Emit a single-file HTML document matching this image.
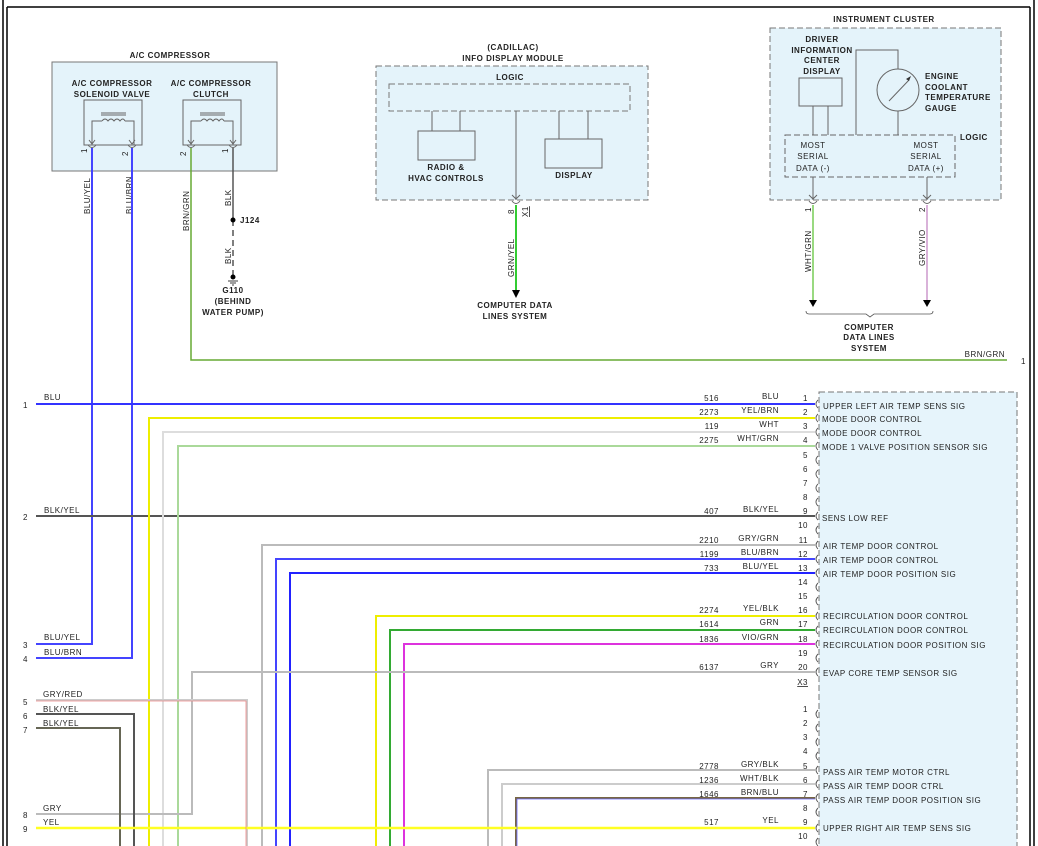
<!DOCTYPE html>
<html><head><meta charset="utf-8"><style>
html,body{margin:0;padding:0;background:#fff;}
svg{display:block;}
text{font-family:"Liberation Sans",sans-serif;font-size:8px;fill:#222;letter-spacing:0.5px;}
.b{font-weight:bold;}
</style></head><body>
<svg width="1038" height="846" viewBox="0 0 1038 846" xmlns="http://www.w3.org/2000/svg">
<!-- frame -->
<g stroke="#000" fill="none">
<line x1="3" y1="0" x2="3" y2="846" stroke-width="1.5"/>
<line x1="7" y1="7" x2="7" y2="846" stroke-width="1.5"/>
<line x1="7" y1="7" x2="1030" y2="7" stroke-width="1.5"/>
<line x1="1030" y1="7" x2="1030" y2="846" stroke-width="1.5"/>
<line x1="1034" y1="0" x2="1034" y2="846" stroke-width="1.5"/>
</g>

<!-- A/C compressor -->
<rect x="52" y="62" width="225" height="109" fill="#e4f3fa" stroke="#777" stroke-width="1"/>
<text x="170" y="58" text-anchor="middle" class="b">A/C COMPRESSOR</text>
<text x="112" y="86" text-anchor="middle" class="b">A/C COMPRESSOR</text>
<text x="112" y="97" text-anchor="middle" class="b">SOLENOID VALVE</text>
<text x="211" y="86" text-anchor="middle" class="b">A/C COMPRESSOR</text>
<text x="211" y="97" text-anchor="middle" class="b">CLUTCH</text>
<g fill="none" stroke="#666" stroke-width="1">
<rect x="84" y="100" width="58" height="45"/>
<rect x="183" y="100" width="58" height="45"/>
<path d="M92,145 V121 H102 M125,121 H134 V145"/>
<path d="M191,145 V121 H201 M224,121 H233 V145"/>
<path d="M102,121 q3,-4 6,0 q3,-4 6,0 q3,-4 6,0 q3,-4 5,0"/>
<path d="M201,121 q3,-4 6,0 q3,-4 6,0 q3,-4 6,0 q3,-4 5,0"/>
<line x1="101" y1="113" x2="126" y2="113"/><line x1="101" y1="115" x2="126" y2="115"/>
<line x1="200" y1="113" x2="225" y2="113"/><line x1="200" y1="115" x2="225" y2="115"/>
<path d="M88,145 q4,5 8,0 M128,145 q4,5 8,0 M187,145 q4,5 8,0 M229,145 q4,5 8,0"/>
<path d="M89,140 l3,4 l3,-4 M129,140 l3,4 l3,-4 M188,140 l3,4 l3,-4 M230,140 l3,4 l3,-4"/>
</g>
<text transform="translate(87,153) rotate(-90)">1</text>
<text transform="translate(128,156) rotate(-90)">2</text>
<text transform="translate(186,156) rotate(-90)">2</text>
<text transform="translate(228,153) rotate(-90)">1</text>
<text transform="translate(90,214) rotate(-90)">BLU/YEL</text>
<text transform="translate(132,214) rotate(-90)">BLU/BRN</text>
<text transform="translate(189,231) rotate(-90)">BRN/GRN</text>
<text transform="translate(231,206) rotate(-90)">BLK</text>
<text transform="translate(231,264) rotate(-90)">BLK</text>
<line x1="233" y1="148" x2="233" y2="218" stroke="#555" stroke-width="1.5"/>
<line x1="233" y1="220" x2="233" y2="276" stroke="#555" stroke-width="1.5" stroke-dasharray="6,4"/>
<circle cx="233" cy="220" r="2.5" fill="#000"/>
<text x="240" y="223" class="b">J124</text>
<circle cx="233" cy="277" r="2.5" fill="#000"/>
<path d="M228,281 h10 M230,283 h6 M232,285 h2" stroke="#000" stroke-width="0.8"/>
<text x="233" y="293" text-anchor="middle" class="b">G110</text>
<text x="233" y="304" text-anchor="middle" class="b">(BEHIND</text>
<text x="233" y="315" text-anchor="middle" class="b">WATER PUMP)</text>

<!-- Info display module -->
<text x="513" y="50" text-anchor="middle" class="b">(CADILLAC)</text>
<text x="513" y="61" text-anchor="middle" class="b">INFO DISPLAY MODULE</text>
<rect x="376" y="66" width="272" height="134" fill="#e4f3fa" stroke="#777" stroke-dasharray="6,3"/>
<text x="510" y="80" text-anchor="middle" class="b">LOGIC</text>
<rect x="389" y="84" width="241" height="27" fill="#e4f3fa" stroke="#777" stroke-dasharray="6,3"/>
<g stroke="#666" fill="#e4f3fa">
<path d="M432,111 V131 M460,111 V131 M559,111 V139 M588,111 V139" fill="none"/>
<rect x="418" y="131" width="57" height="29"/>
<rect x="545" y="139" width="57" height="29"/>
<path d="M516,111 V200" fill="none"/>
<path d="M512,195 l4,4 l4,-4 M512,201 q4,5 8,0" fill="none"/>
</g>
<text x="446" y="170" text-anchor="middle" class="b">RADIO &amp;</text>
<text x="446" y="181" text-anchor="middle" class="b">HVAC CONTROLS</text>
<text x="574" y="178" text-anchor="middle" class="b">DISPLAY</text>
<text transform="translate(514,214) rotate(-90)">8</text>
<text transform="translate(528,217) rotate(-90)" style="text-decoration:underline">X1</text>
<line x1="516" y1="205" x2="516" y2="290" stroke="#3c3" stroke-width="2"/>
<path d="M512,290 h8 l-4,8 z" fill="#000"/>
<text transform="translate(514,277) rotate(-90)">GRN/YEL</text>
<text x="515" y="308" text-anchor="middle" class="b">COMPUTER DATA</text>
<text x="515" y="319" text-anchor="middle" class="b">LINES SYSTEM</text>

<!-- Instrument cluster -->
<text x="884" y="22" text-anchor="middle" class="b">INSTRUMENT CLUSTER</text>
<rect x="770" y="28" width="231" height="172" fill="#e4f3fa" stroke="#777" stroke-dasharray="6,3"/>
<text x="822" y="42" text-anchor="middle" class="b">DRIVER</text>
<text x="822" y="53" text-anchor="middle" class="b">INFORMATION</text>
<text x="822" y="63" text-anchor="middle" class="b">CENTER</text>
<text x="822" y="74" text-anchor="middle" class="b">DISPLAY</text>
<g stroke="#666" fill="#e4f3fa">
<rect x="799" y="78" width="43" height="28"/>
<path d="M813,106 V135 M828,106 V135 M856,135 V50 H898 V69 M898,111 V135" fill="none"/>
<circle cx="898" cy="90" r="21"/>
<path d="M889,101 L909,80" fill="none"/>
<rect x="785" y="135" width="170" height="42" stroke-dasharray="6,3"/>
<path d="M813,177 V200 M927,177 V200" fill="none"/>
<path d="M809,195 l4,4 l4,-4 M923,195 l4,4 l4,-4 M809,201 q4,5 8,0 M923,201 q4,5 8,0" fill="none"/>
</g>
<path d="M906,79 l5,-3 l-2,5 z" fill="#333"/>
<text x="925" y="79" class="b">ENGINE</text>
<text x="925" y="90" class="b">COOLANT</text>
<text x="925" y="100" class="b">TEMPERATURE</text>
<text x="925" y="111" class="b">GAUGE</text>
<text x="960" y="140" class="b">LOGIC</text>
<text x="813" y="148" text-anchor="middle">MOST</text>
<text x="813" y="159" text-anchor="middle">SERIAL</text>
<text x="813" y="171" text-anchor="middle">DATA (-)</text>
<text x="926" y="148" text-anchor="middle">MOST</text>
<text x="926" y="159" text-anchor="middle">SERIAL</text>
<text x="926" y="171" text-anchor="middle">DATA (+)</text>
<text transform="translate(811,212) rotate(-90)">1</text>
<text transform="translate(925,212) rotate(-90)">2</text>
<line x1="813" y1="205" x2="813" y2="300" stroke="#7c5" stroke-width="1.5"/>
<line x1="927" y1="205" x2="927" y2="300" stroke="#c9c" stroke-width="1.5"/>
<path d="M809,300 h8 l-4,7 z M923,300 h8 l-4,7 z" fill="#000"/>
<path d="M806,311 q0,3 3,3 H866 l4,3 l4,-3 H930 q3,0 3,-3" fill="none" stroke="#555" stroke-width="0.8"/>
<text transform="translate(811,272) rotate(-90)">WHT/GRN</text>
<text transform="translate(925,266) rotate(-90)">GRY/VIO</text>
<text x="869" y="330" text-anchor="middle" class="b">COMPUTER</text>
<text x="869" y="340" text-anchor="middle" class="b">DATA LINES</text>
<text x="869" y="351" text-anchor="middle" class="b">SYSTEM</text>

<!-- BRN/GRN -->
<path d="M191,148 V360 H1007" fill="none" stroke="#6a3" stroke-width="1.5"/>
<text x="1005" y="357" text-anchor="end">BRN/GRN</text>
<text x="1021" y="364">1</text>

<!-- Right connector box -->
<rect x="819" y="392" width="198" height="460" fill="#e6f4fb" stroke="#777" stroke-dasharray="6,3"/>

<!-- wires -->
<g fill="none" stroke-width="2">
<path d="M92,148 V644 H36" stroke="#44f"/>
<path d="M132,148 V658 H36" stroke="#44f"/>
<path d="M36,404 H815" stroke="#33f"/>
<path d="M36,516 H815" stroke="#555"/>
<path d="M149,846 V418 H815" stroke="#ee0"/>
<path d="M163,846 V432 H815" stroke="#ddd"/>
<path d="M178,846 V446 H815" stroke="#aad99a"/>
<path d="M262,846 V545 H815" stroke="#bbb"/>
<path d="M276,846 V559 H815" stroke="#44f"/>
<path d="M290,846 V573 H815" stroke="#22f"/>
<path d="M376,846 V616 H815" stroke="#ee0"/>
<path d="M390,846 V630 H815" stroke="#3a3"/>
<path d="M404,846 V644 H815" stroke="#d3d"/>
<path d="M36,814 H192 V672 H815" stroke="#bbb"/>
<path d="M36,700 H247 V846" stroke="#ccc"/>
<path d="M36,714 H134 V846" stroke="#555"/>
<path d="M36,728 H120 V846" stroke="#665"/>
<path d="M488,846 V770 H815" stroke="#bbb"/>
<path d="M502,846 V784 H815" stroke="#ccc"/>
<path d="M516,846 V798 H815" stroke="#764"/>
<path d="M36,828 H815" stroke="#ff2" stroke-width="2.5"/>
</g>
<g fill="none" stroke-width="0.8">
<path d="M36,701 H246 V846" stroke="#e88"/>
<path d="M517,846 V799 H815" stroke="#66f"/>
</g>

<!-- left labels -->
<g>
<text x="23" y="408">1</text><text x="44" y="400">BLU</text>
<text x="23" y="520">2</text><text x="44" y="513">BLK/YEL</text>
<text x="23" y="648">3</text><text x="44" y="640">BLU/YEL</text>
<text x="23" y="662">4</text><text x="44" y="655">BLU/BRN</text>
<text x="23" y="705">5</text><text x="43" y="697">GRY/RED</text>
<text x="23" y="719">6</text><text x="43" y="712">BLK/YEL</text>
<text x="23" y="733">7</text><text x="43" y="726">BLK/YEL</text>
<text x="23" y="818">8</text><text x="43" y="811">GRY</text>
<text x="23" y="832">9</text><text x="43" y="825">YEL</text>
</g>

<!-- right pin rows -->
<g id="pins" fill="none" stroke="#555" stroke-width="0.9">
<path d="M818,400 q-4,4 0,8 M818,414 q-4,4 0,8 M818,428 q-4,4 0,8 M818,442 q-4,4 0,8 M818,456 q-4,4 0,8 M818,470 q-4,4 0,8 M818,484 q-4,4 0,8 M818,498 q-4,4 0,8 M818,512 q-4,4 0,8 M818,526 q-4,4 0,8 M818,541 q-4,4 0,8 M818,555 q-4,4 0,8 M818,569 q-4,4 0,8 M818,583 q-4,4 0,8 M818,597 q-4,4 0,8 M818,612 q-4,4 0,8 M818,626 q-4,4 0,8 M818,640 q-4,4 0,8 M818,654 q-4,4 0,8 M818,668 q-4,4 0,8"/>
<path d="M818,710 q-4,4 0,8 M818,724 q-4,4 0,8 M818,738 q-4,4 0,8 M818,752 q-4,4 0,8 M818,766 q-4,4 0,8 M818,780 q-4,4 0,8 M818,794 q-4,4 0,8 M818,808 q-4,4 0,8 M818,824 q-4,4 0,8 M818,838 q-4,4 0,8"/>
</g>
<g text-anchor="end">
<text x="808" y="401">1</text><text x="808" y="415">2</text><text x="808" y="429">3</text><text x="808" y="443">4</text><text x="808" y="458">5</text><text x="808" y="472">6</text><text x="808" y="486">7</text><text x="808" y="500">8</text><text x="808" y="514">9</text><text x="808" y="528">10</text><text x="808" y="543">11</text><text x="808" y="557">12</text><text x="808" y="571">13</text><text x="808" y="585">14</text><text x="808" y="599">15</text><text x="808" y="613">16</text><text x="808" y="627">17</text><text x="808" y="642">18</text><text x="808" y="656">19</text><text x="808" y="670">20</text>
<text x="808" y="685" style="text-decoration:underline">X3</text>
<text x="808" y="712">1</text><text x="808" y="726">2</text><text x="808" y="740">3</text><text x="808" y="754">4</text><text x="808" y="769">5</text><text x="808" y="783">6</text><text x="808" y="797">7</text><text x="808" y="811">8</text><text x="808" y="825">9</text><text x="808" y="839">10</text>
<text x="719" y="401">516</text><text x="779" y="399">BLU</text>
<text x="719" y="415">2273</text><text x="779" y="413">YEL/BRN</text>
<text x="719" y="429">119</text><text x="779" y="427">WHT</text>
<text x="719" y="443">2275</text><text x="779" y="441">WHT/GRN</text>
<text x="719" y="514">407</text><text x="779" y="512">BLK/YEL</text>
<text x="719" y="543">2210</text><text x="779" y="541">GRY/GRN</text>
<text x="719" y="557">1199</text><text x="779" y="555">BLU/BRN</text>
<text x="719" y="571">733</text><text x="779" y="569">BLU/YEL</text>
<text x="719" y="613">2274</text><text x="779" y="611">YEL/BLK</text>
<text x="719" y="627">1614</text><text x="779" y="625">GRN</text>
<text x="719" y="642">1836</text><text x="779" y="640">VIO/GRN</text>
<text x="719" y="670">6137</text><text x="779" y="668">GRY</text>
<text x="719" y="769">2778</text><text x="779" y="767">GRY/BLK</text>
<text x="719" y="783">1236</text><text x="779" y="781">WHT/BLK</text>
<text x="719" y="797">1646</text><text x="779" y="795">BRN/BLU</text>
<text x="719" y="825">517</text><text x="779" y="823">YEL</text>
</g>
<g>
<text x="823" y="409">UPPER LEFT AIR TEMP SENS SIG</text>
<text x="822" y="422">MODE DOOR CONTROL</text>
<text x="822" y="436">MODE DOOR CONTROL</text>
<text x="822" y="450">MODE 1 VALVE POSITION SENSOR SIG</text>
<text x="822" y="521">SENS LOW REF</text>
<text x="823" y="549">AIR TEMP DOOR CONTROL</text>
<text x="823" y="563">AIR TEMP DOOR CONTROL</text>
<text x="823" y="577">AIR TEMP DOOR POSITION SIG</text>
<text x="823" y="619">RECIRCULATION DOOR CONTROL</text>
<text x="823" y="633">RECIRCULATION DOOR CONTROL</text>
<text x="823" y="648">RECIRCULATION DOOR POSITION SIG</text>
<text x="823" y="676">EVAP CORE TEMP SENSOR SIG</text>
<text x="823" y="775">PASS AIR TEMP MOTOR CTRL</text>
<text x="823" y="789">PASS AIR TEMP DOOR CTRL</text>
<text x="823" y="803">PASS AIR TEMP DOOR POSITION SIG</text>
<text x="823" y="831">UPPER RIGHT AIR TEMP SENS SIG</text>
</g>
</svg>
</body></html>
